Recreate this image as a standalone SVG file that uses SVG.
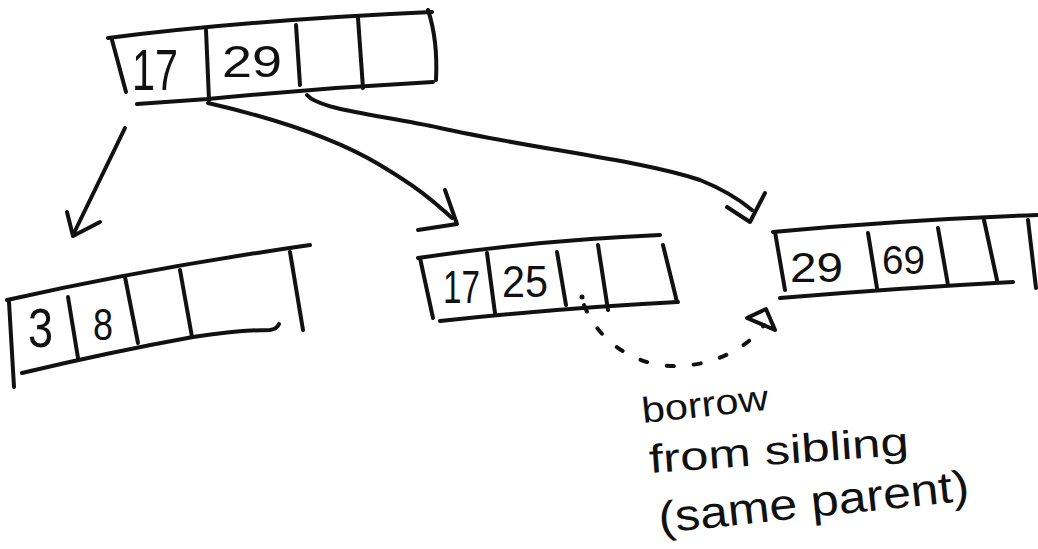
<svg xmlns="http://www.w3.org/2000/svg" width="1038" height="549" viewBox="0 0 1038 549">
<style>
.s{fill:none;stroke:#111;stroke-width:4;stroke-linecap:round;stroke-linejoin:round}
.d{fill:none;stroke:#111;stroke-width:4;stroke-linecap:round;stroke-dasharray:7 20}
.t{font-family:"Liberation Sans","DejaVu Sans",sans-serif;fill:#111}
</style>
<rect width="1038" height="549" fill="#fff"/>
<g id="root">
<path class="s" d="M108,38 Q250,20 432,12"/>
<path class="s" d="M112,40 L126,92"/>
<path class="s" d="M137,104 L208,99 Q320,88 433,82"/>
<path class="s" d="M428,10 Q438,40 436,80"/>
<path class="s" d="M206,30 L209,100 M296,25 L300,85 M358,18 L363,88"/>
<text class="t" x="132" y="90" font-size="58" textLength="46" lengthAdjust="spacingAndGlyphs">17</text>
<text class="t" x="222" y="77" font-size="45" textLength="60" lengthAdjust="spacingAndGlyphs">29</text>
</g>
<g id="left">
<path class="s" d="M7,300 Q150,268 310,245"/>
<path class="s" d="M9,302 L14,387"/>
<path class="s" d="M22,373 Q110,352 193,337 Q240,330 270,330 Q277,329 279,324"/>
<path class="s" d="M290,252 L303,330"/>
<path class="s" d="M68,297 L78,358 M125,277 L138,343 M180,270 L192,337"/>
<text class="t" x="28" y="347" font-size="56" textLength="25" lengthAdjust="spacingAndGlyphs">3</text>
<text class="t" x="93" y="340" font-size="45" textLength="20" lengthAdjust="spacingAndGlyphs">8</text>
</g>
<g id="middle">
<path class="s" d="M418,258 Q540,240 660,235"/>
<path class="s" d="M420,258 L433,318"/>
<path class="s" d="M440,321 Q560,308 678,302"/>
<path class="s" d="M663,245 L677,302"/>
<path class="s" d="M487,253 L495,313 M557,252 L566,305 M598,245 L608,310"/>
<text class="t" x="443" y="303" font-size="46" textLength="37" lengthAdjust="spacingAndGlyphs">17</text>
<text class="t" x="502" y="297" font-size="45" textLength="46" lengthAdjust="spacingAndGlyphs">25</text>
<circle cx="582" cy="297" r="2.5" fill="#111"/>
</g>
<g id="right">
<path class="s" d="M773,232 Q900,220 1037,215"/>
<path class="s" d="M775,232 L785,290"/>
<path class="s" d="M780,298 Q900,288 1013,282"/>
<path class="s" d="M868,233 L877,288 M938,228 L948,285 M984,220 L997,280 M1028,220 L1036,288"/>
<text class="t" x="790" y="282" font-size="42" textLength="53" lengthAdjust="spacingAndGlyphs">29</text>
<text class="t" x="882" y="274" font-size="40" textLength="43" lengthAdjust="spacingAndGlyphs">69</text>
</g>
<g id="connectors">
<path class="s" d="M125,128 L73,235"/>
<path class="s" d="M67,212 L73,236 L100,222"/>
<path class="s" d="M208,103 C260,115 330,135 380,165 S440,208 452,218"/>
<path class="s" d="M445,190 L457,224 L418,230"/>
<path class="s" d="M307,95 C320,110 380,115 440,128 C540,150 640,160 700,180 C725,190 740,200 752,210"/>
<path class="s" d="M727,207 L750,222 L765,193"/>
<path class="d" d="M584,305 C600,345 640,368 680,366 C720,364 750,345 764,325"/>
<path class="s" d="M747,318 L766,309 L775,330 Z"/>
</g>
<g id="label">
<text class="t" x="643" y="423" font-size="36" textLength="127" lengthAdjust="spacingAndGlyphs" transform="rotate(-6 643 423)">borrow</text>
<text class="t" x="650" y="473" font-size="40" textLength="260" lengthAdjust="spacingAndGlyphs" transform="rotate(-4 650 473)">from sibling</text>
<text class="t" x="660" y="533" font-size="44" textLength="312" lengthAdjust="spacingAndGlyphs" transform="rotate(-6 660 533)">(same parent)</text>
</g>
</svg>
